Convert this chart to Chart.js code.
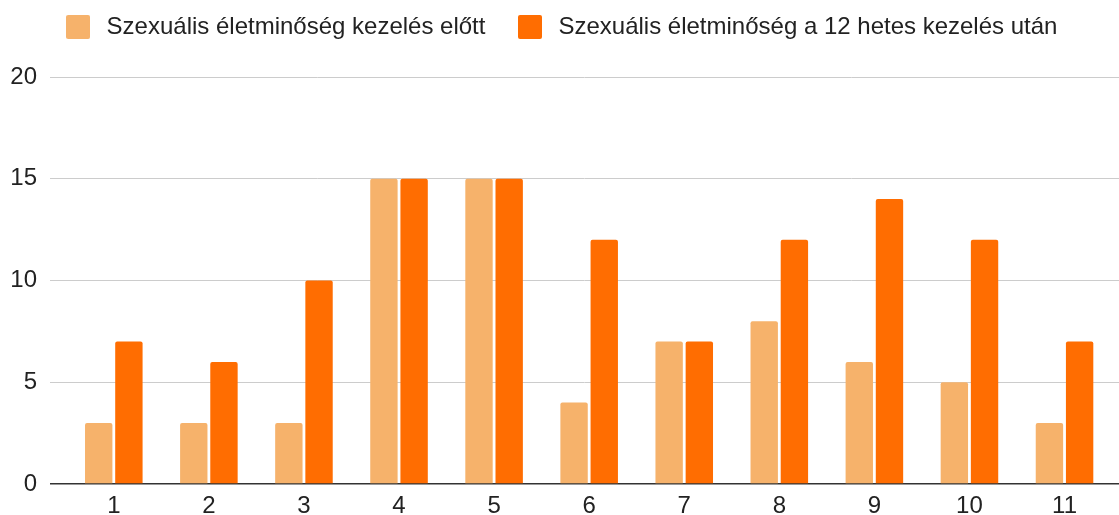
<!DOCTYPE html>
<html>
<head>
<meta charset="utf-8">
<script src="https://cdn.jsdelivr.net/npm/chart.js@4"></script>
<style>
html, body { margin: 0; padding: 0; background: #ffffff; }
#wrap { width: 1119px; height: 515px; }
</style>
</head>
<body>
<div id="wrap"><canvas id="c" width="1119" height="515"></canvas></div>
<script>
const categories = [1, 2, 3, 4, 5, 6, 7, 8, 9, 10, 11];
const beforeValues = [3, 3, 3, 15, 15, 4, 7, 8, 6, 5, 3];
const afterValues = [7, 6, 10, 15, 15, 12, 7, 12, 14, 12, 7];
const seriesNames = ['Szexuális életminőség kezelés előtt', 'Szexuális életminőség a 12 hetes kezelés után'];
const seriesColors = ['#F6B26B', '#FF6D01'];
const yTickValues = [0, 5, 10, 15, 20];

const FONT = 'Liberation Sans, Arial, sans-serif';

function makeSwatch(color) {
  const s = document.createElement('canvas');
  s.width = 24; s.height = 24;
  const g = s.getContext('2d');
  g.fillStyle = color;
  g.beginPath();
  const r = 2, w = 24, h = 24;
  g.moveTo(r, 0); g.lineTo(w - r, 0); g.arcTo(w, 0, w, r, r);
  g.lineTo(w, h - r); g.arcTo(w, h, w - r, h, r);
  g.lineTo(r, h); g.arcTo(0, h, 0, h - r, r);
  g.lineTo(0, r); g.arcTo(0, 0, r, 0, r);
  g.closePath();
  g.fill();
  return s;
}
const swatches = seriesColors.map(makeSwatch);

const legendSpacer = {
  id: 'legendSpacer',
  beforeLayout(chart) {
    const lg = chart.legend;
    if (lg && !lg._spacerPatched) {
      const origFit = lg.fit;
      lg.fit = function () { origFit.call(this); this.height += 28; };
      lg._spacerPatched = true;
    }
  }
};

new Chart(document.getElementById('c'), {
  type: 'bar',
  data: {
    datasets: [
      {
        label: seriesNames[0],
        data: categories.map((c, i) => ({ x: c, y: beforeValues[i] })),
        backgroundColor: seriesColors[0],
        borderWidth: 0,
        borderRadius: 2,
        categoryPercentage: 0.635,
        barPercentage: 0.907
      },
      {
        label: seriesNames[1],
        data: categories.map((c, i) => ({ x: c, y: afterValues[i] })),
        backgroundColor: seriesColors[1],
        borderWidth: 0,
        borderRadius: 2,
        categoryPercentage: 0.635,
        barPercentage: 0.907
      }
    ]
  },
  options: {
    responsive: false,
    animation: false,
    devicePixelRatio: 1,
    layout: { padding: { top: -13, left: 0, right: 0, bottom: 0 } },
    plugins: {
      tooltip: { enabled: false },
      legend: {
        position: 'top',
        align: 'center',
        labels: {
          usePointStyle: true,
          pointStyleWidth: 33,
          boxHeight: 24,
          boxWidth: 24,
          padding: 28,
          color: '#222222',
          font: { family: FONT, size: 24 },
          generateLabels(chart) {
            const items = Chart.defaults.plugins.legend.labels.generateLabels(chart);
            items.forEach((it) => { it.pointStyle = swatches[it.datasetIndex]; it.lineWidth = 0; });
            return items;
          }
        }
      }
    },
    scales: {
      x: {
        type: 'linear',
        bounds: 'data',
        offset: false,
        min: 0.3289,
        max: 11.573,
        afterBuildTicks(scale) { scale.ticks = categories.map(v => ({ value: v })); },
        afterFit(scale) { scale.height = 31; },
        grid: { display: false, drawTicks: false, offset: false },
        border: { display: false },
        ticks: {
          autoSkip: false,
          maxRotation: 0,
          padding: 8,
          color: '#222222',
          font: { family: FONT, size: 24 },
          callback: (v) => String(v)
        }
      },
      y: {
        min: 0,
        max: 20,
        afterBuildTicks(scale) { scale.ticks = yTickValues.map(v => ({ value: v })); },
        afterFit(scale) { scale.width = 50; },
        grid: {
          drawTicks: false,
          color: (ctx) => (ctx.tick && ctx.tick.value === 0 ? '#333333' : '#cccccc'),
          lineWidth: (ctx) => (ctx.tick && ctx.tick.value === 0 ? 1.5 : 1)
        },
        border: { display: false },
        ticks: {
          padding: 13,
          color: '#222222',
          font: { family: FONT, size: 24 },
          callback: (v) => String(v)
        }
      }
    }
  },
  plugins: [legendSpacer]
});
</script>
</body>
</html>
